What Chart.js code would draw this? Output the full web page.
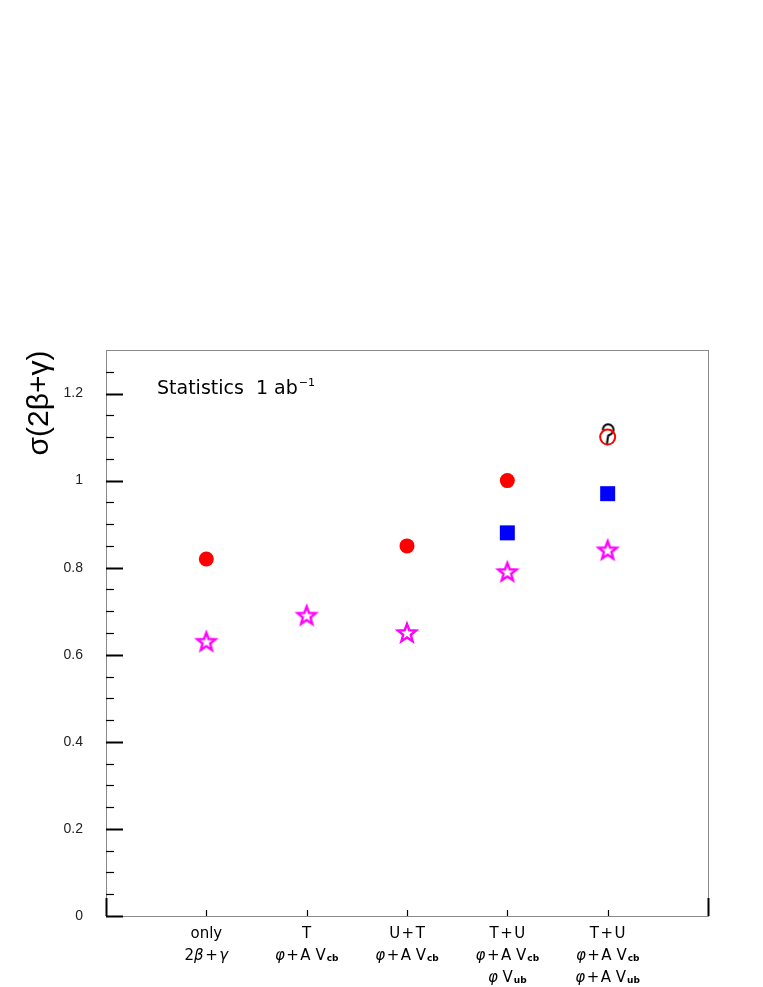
<!DOCTYPE html>
<html><head><meta charset="utf-8">
<script src="https://cdn.jsdelivr.net/npm/chart.js@4/dist/chart.umd.min.js"></script>
<style>html,body{margin:0;padding:0;background:#fff}#wrap{width:763px;height:987px}</style>
</head><body><div id="wrap"><canvas id="c" width="763" height="987"></canvas></div>
<script>
// ---- data ----
const categories = [0, 1, 2, 3, 4];
const categoryLabels = [
  ["only", "2β+γ"],
  ["T", "φ+A V_cb"],
  ["U+T", "φ+A V_cb"],
  ["T+U", "φ+A V_cb", "φ V_ub"],
  ["T+U", "φ+A V_cb", "φ+A V_ub"]
];
const redFilled    = [0.82, null, 0.85, 1.00, null];
const redOpen      = [null, null, null, null, 1.10];
const blackMark    = [null, null, null, null, 1.10];
const blueSquares  = [null, null, null, 0.88, 0.97];
const magentaStars = [0.63, 0.69, 0.65, 0.79, 0.84];
const yTickLabels  = [0, 0.2, 0.4, 0.6, 0.8, 1, 1.2];
const yTitle = "σ(2β+γ)";
const annotationText = "Statistics  1 ab";
const annotationSup = "-1";

function toPoints(arr) {
  return categories.map((x, i) => ({x: x, y: arr[i]})).filter(p => p.y !== null);
}

// ---- marker images ----
function starImage() {
  const c = document.createElement('canvas'); c.width = 26; c.height = 26;
  const g = c.getContext('2d');
  const cx = 13, cy = 13.5, R = 9.5, r = 4.0;
  g.beginPath();
  for (let k = 0; k < 10; k++) {
    const a = -Math.PI / 2 + k * Math.PI / 5;
    const rad = (k % 2 === 0) ? R : r;
    const px = cx + rad * Math.cos(a), py = cy + rad * Math.sin(a);
    if (k === 0) g.moveTo(px, py); else g.lineTo(px, py);
  }
  g.closePath();
  g.strokeStyle = '#ff00ff'; g.lineWidth = 2.4; g.lineJoin = 'miter';
  g.stroke();
  return c;
}
function hookImage() {
  const c = document.createElement('canvas'); c.width = 30; c.height = 30;
  const g = c.getContext('2d');
  const cx = 15, cy = 15;
  g.strokeStyle = '#000'; g.lineWidth = 2;
  g.beginPath();
  g.arc(cx + 0.5, cy - 7.5, 5.3, Math.PI * 0.95, Math.PI * 2.3, false);
  g.lineTo(cx + 0.5, cy - 1.5);
  g.lineTo(cx - 1, cy + 8);
  g.stroke();
  return c;
}

const LABEL_FONT = '15px "DejaVu Sans", sans-serif';
const GREEK_FONT = 'italic 15px "DejaVu Sans", sans-serif';
const SUB_FONT = 'bold 9px "DejaVu Sans", sans-serif';
function isGreek(ch) { return /[\u0370-\u03FF]/.test(ch); }
function runs(text) {
  const out = [];
  for (const ch of text) {
    const f = isGreek(ch) ? GREEK_FONT : LABEL_FONT;
    const gap = (ch === '+') ? 1.5 : 0;
    out.push({ch, f, gap});
  }
  return out;
}
function measureRuns(ctx, rs) {
  let w = 0;
  rs.forEach(r => { ctx.font = r.f; w += ctx.measureText(r.ch).width + 2 * r.gap; });
  return w;
}
function drawRuns(ctx, rs, x, y) {
  rs.forEach(r => {
    ctx.font = r.f; x += r.gap;
    ctx.fillText(r.ch, x, y);
    x += ctx.measureText(r.ch).width + r.gap;
  });
  return x;
}

// ---- decorations plugin ----
const frame = {
  id: 'frame',
  beforeDatasetsDraw(chart) {
    const ctx = chart.ctx, a = chart.chartArea;
    const xs = chart.scales.x, ys = chart.scales.y;
    ctx.save();
    ctx.strokeStyle = '#8a8a8a'; ctx.lineWidth = 1;
    ctx.strokeRect(a.left + 0.5, a.top + 0.5, a.right - a.left, a.bottom - a.top);
    ctx.strokeStyle = '#000';
    for (let k = 0; k < 26; k++) {
      const v = k * 0.05;
      const py = Math.round(ys.getPixelForValue(v)) + 0.5;
      const major = (k % 4 === 0);
      ctx.lineWidth = major ? 2 : 1.2;
      ctx.beginPath();
      ctx.moveTo(a.left, py);
      ctx.lineTo(a.left + (major ? 17 : 8), py);
      ctx.stroke();
    }
    const xt = [-1].concat(categories, [5]);
    xt.forEach(v => {
      const px = Math.round(xs.getPixelForValue(v)) + 0.5;
      const major = (v === -1 || v === 5);
      ctx.lineWidth = major ? 2 : 1.2;
      ctx.beginPath();
      ctx.moveTo(px, a.bottom);
      ctx.lineTo(px, a.bottom - (major ? 18 : 6));
      ctx.stroke();
    });
    ctx.fillStyle = '#222';
    ctx.font = '14px "Liberation Sans", Arial, sans-serif';
    ctx.textAlign = 'right'; ctx.textBaseline = 'middle';
    yTickLabels.forEach(v => {
      ctx.fillText(String(v), 83, ys.getPixelForValue(v));
    });
    ctx.save();
    ctx.translate(40, 403);
    ctx.rotate(-Math.PI / 2);
    ctx.fillStyle = '#000';
    ctx.font = '30px "Liberation Sans", Arial, sans-serif';
    ctx.textAlign = 'center'; ctx.textBaseline = 'middle';
    ctx.fillText(yTitle, 0, 0);
    ctx.restore();
    ctx.fillStyle = '#000';
    ctx.font = '19px "DejaVu Sans", sans-serif';
    ctx.textAlign = 'left'; ctx.textBaseline = 'alphabetic';
    ctx.fillText(annotationText, 157, 394);
    const w = ctx.measureText(annotationText).width;
    ctx.font = '11px "DejaVu Sans", sans-serif';
    ctx.fillText(annotationSup.replace('-', '\u2212'), 157 + w + 1, 386);
    const baselines = [938, 960, 982];
    categoryLabels.forEach((lines, i) => {
      const cx = xs.getPixelForValue(categories[i]);
      lines.forEach((line, j) => {
        const parts = line.split('_');
        const rs = runs(parts[0]);
        const sub = parts[1] || '';
        const mw = measureRuns(ctx, rs);
        ctx.font = SUB_FONT;
        const sw = sub ? ctx.measureText(sub).width + 1 : 0;
        const x0 = cx - (mw + sw) / 2;
        const xe = drawRuns(ctx, rs, x0, baselines[j]);
        if (sub) {
          ctx.font = SUB_FONT;
          ctx.fillText(sub, xe + 1, baselines[j] + 1);
        }
      });
    });
    ctx.restore();
  }
};

const star = starImage();
const hook = hookImage();

new Chart(document.getElementById('c'), {
  type: 'scatter',
  data: {
    datasets: [
      { label: 'red open', data: toPoints(redOpen), pointStyle: 'circle', pointRadius: 7.5,
        borderColor: '#ff0000', backgroundColor: 'rgba(0,0,0,0)', borderWidth: 2, order: 0 },
      { label: 'black', data: toPoints(blackMark), pointStyle: hook, order: 1 },
      { label: 'red filled', data: toPoints(redFilled), pointStyle: 'circle', pointRadius: 7.5,
        borderColor: '#ff0000', backgroundColor: '#ff0000', borderWidth: 0, order: 2 },
      { label: 'blue', data: toPoints(blueSquares), pointStyle: 'rect', pointRadius: 10.6,
        borderColor: '#0000ff', backgroundColor: '#0000ff', borderWidth: 0, order: 3 },
      { label: 'stars', data: toPoints(magentaStars), pointStyle: star, order: 4 }
    ]
  },
  options: {
    responsive: false,
    animation: false,
    events: [],
    layout: { padding: { left: 106, right: 55, top: 350, bottom: 71 } },
    scales: {
      x: { type: 'linear', min: -1, max: 5, display: false },
      y: { type: 'linear', min: 0, max: 1.3, display: false }
    },
    plugins: { legend: { display: false }, tooltip: { enabled: false } }
  },
  plugins: [frame]
});
</script>
</body></html>
